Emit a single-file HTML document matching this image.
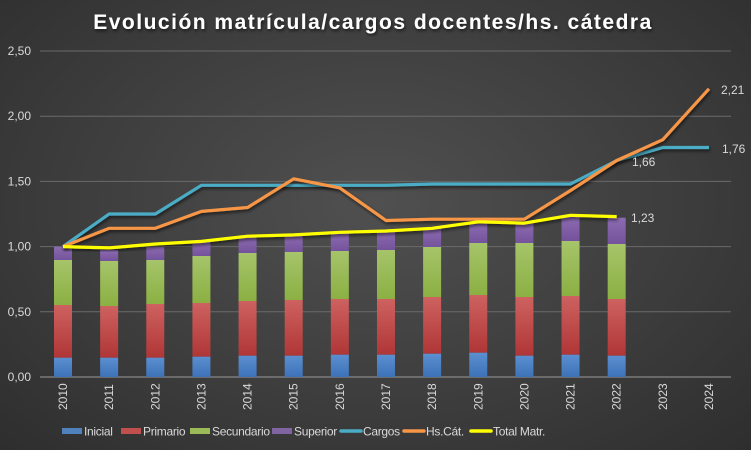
<!DOCTYPE html>
<html><head><meta charset="utf-8"><style>
html,body{margin:0;padding:0;}
body{width:751px;height:450px;overflow:hidden;background:radial-gradient(ellipse at 50% 45%,#505050 0%,#3c3c3c 60%,#2e2e2e 100%);font-family:"Liberation Sans",sans-serif;}
svg{position:absolute;left:0;top:0;}
</style></head><body>
<svg id="c" width="751" height="450" xmlns="http://www.w3.org/2000/svg"></svg>
<script>
const s=document.getElementById('c');let h='';
h+=`<defs><filter id="sh"><feDropShadow dx="1" dy="2" stdDeviation="1.5" flood-color="#000" flood-opacity="0.6"/></filter></defs>`;
h+=`<text x="373" y="29" fill="#fff" font-size="21" font-weight="bold" text-anchor="middle" letter-spacing="1.5" filter="url(#sh)">Evolución matrícula/cargos docentes/hs. cátedra</text>`;
const Y=v=>377-v*130.4;
const ticks=['0,00','0,50','1,00','1,50','2,00','2,50'];
ticks.forEach((t,i)=>{const y=Y(i*0.5);
 if(i>0)h+=`<line x1="40" x2="731" y1="${y}" y2="${y}" stroke="#6a6a6a" stroke-width="1"/>`;
 h+=`<text x="31" y="${y+4}" fill="#d9d9d9" font-size="12" text-anchor="end">${t}</text>`;});
h+=`<line x1="40" x2="731" y1="377" y2="377" stroke="#9a9a9a" stroke-width="1"/>`;
const X=i=>63+i*46.14;
const b=[[246.7,260,305,357.7],[250,261,306,357.7],[247,260,304,357.7],[241.7,256,303,356.7],[236.7,253,301,355.7],[235.7,252,300,355.7],[233.3,251,299,354.7],[230,250,299,354.7],[228,247,297,353.7],[223,243,295,352.7],[223,243,297,355.7],[216.7,241,296,354.7],[217.7,244,299,355.7]];
h+=`<defs>
<linearGradient id="gb" x1="0" x2="0" y1="0" y2="1"><stop offset="0" stop-color="#5b8fd0"/><stop offset="1" stop-color="#3d72b8"/></linearGradient>
<linearGradient id="gr" x1="0" x2="0" y1="0" y2="1"><stop offset="0" stop-color="#cd6260"/><stop offset="1" stop-color="#b03636"/></linearGradient>
<linearGradient id="gg" x1="0" x2="0" y1="0" y2="1"><stop offset="0" stop-color="#a6c46a"/><stop offset="1" stop-color="#8bb043"/></linearGradient>
<linearGradient id="gp" x1="0" x2="0" y1="0" y2="1"><stop offset="0" stop-color="#8c6bb1"/><stop offset="1" stop-color="#74539c"/></linearGradient></defs>`;
b.forEach((r,i)=>{const x=X(i)-9;
 h+=`<rect x="${x}" y="${r[0]}" width="18" height="${r[1]-r[0]}" fill="url(#gp)"/>`;
 h+=`<rect x="${x}" y="${r[1]}" width="18" height="${r[2]-r[1]}" fill="url(#gg)"/>`;
 h+=`<rect x="${x}" y="${r[2]}" width="18" height="${r[3]-r[2]}" fill="url(#gr)"/>`;
 h+=`<rect x="${x}" y="${r[3]}" width="18" height="${377-r[3]}" fill="url(#gb)"/>`;});
const line=(vals,col)=>{let p=vals.map((v,i)=>`${X(i).toFixed(1)},${Y(v).toFixed(1)}`).join(' ');
 h+=`<polyline points="${p}" fill="none" stroke="${col}" stroke-width="3.2" stroke-linejoin="round" filter="url(#sh)"/>`;};
line([1,1.25,1.25,1.47,1.47,1.47,1.47,1.47,1.48,1.48,1.48,1.48,1.66,1.76,1.76],'#4bacc6');
line([1,1.14,1.14,1.27,1.30,1.52,1.45,1.20,1.21,1.21,1.21,1.43,1.66,1.82,2.21],'#f79646');
line([1,0.99,1.02,1.04,1.08,1.09,1.11,1.12,1.14,1.19,1.18,1.24,1.23],'#ffff00');
h+=`<text x="632" y="166" fill="#d9d9d9" font-size="12">1,66</text>`;
h+=`<text x="722" y="153" fill="#d9d9d9" font-size="12">1,76</text>`;
h+=`<text x="721" y="94" fill="#d9d9d9" font-size="12">2,21</text>`;
h+=`<text x="631" y="222" fill="#d9d9d9" font-size="12">1,23</text>`;
for(let i=0;i<15;i++){const x=X(i)+4;h+=`<text transform="translate(${x},410) rotate(-90)" fill="#d9d9d9" font-size="12">${2010+i}</text>`;}
const lg=[['Inicial','#4f81bd',62,0],['Primario','#c0504d',121,0],['Secundario','#9bbb59',190,0],['Superior','#8064a2',272,0],['Cargos','#4bacc6',341,1],['Hs.Cát.','#f79646',404,1],['Total Matr.','#ffff00',471,1]];
lg.forEach(([t,c,x,l])=>{
 if(l)h+=`<line x1="${x}" x2="${x+20}" y1="431" y2="431" stroke="${c}" stroke-width="3.5" stroke-linecap="round"/>`;
 else h+=`<rect x="${x}" y="428" width="20" height="6" fill="${c}"/>`;
 h+=`<text x="${x+22}" y="435.5" fill="#d9d9d9" font-size="12" letter-spacing="-0.3">${t}</text>`;});
s.innerHTML=h;
</script>
</body></html>
